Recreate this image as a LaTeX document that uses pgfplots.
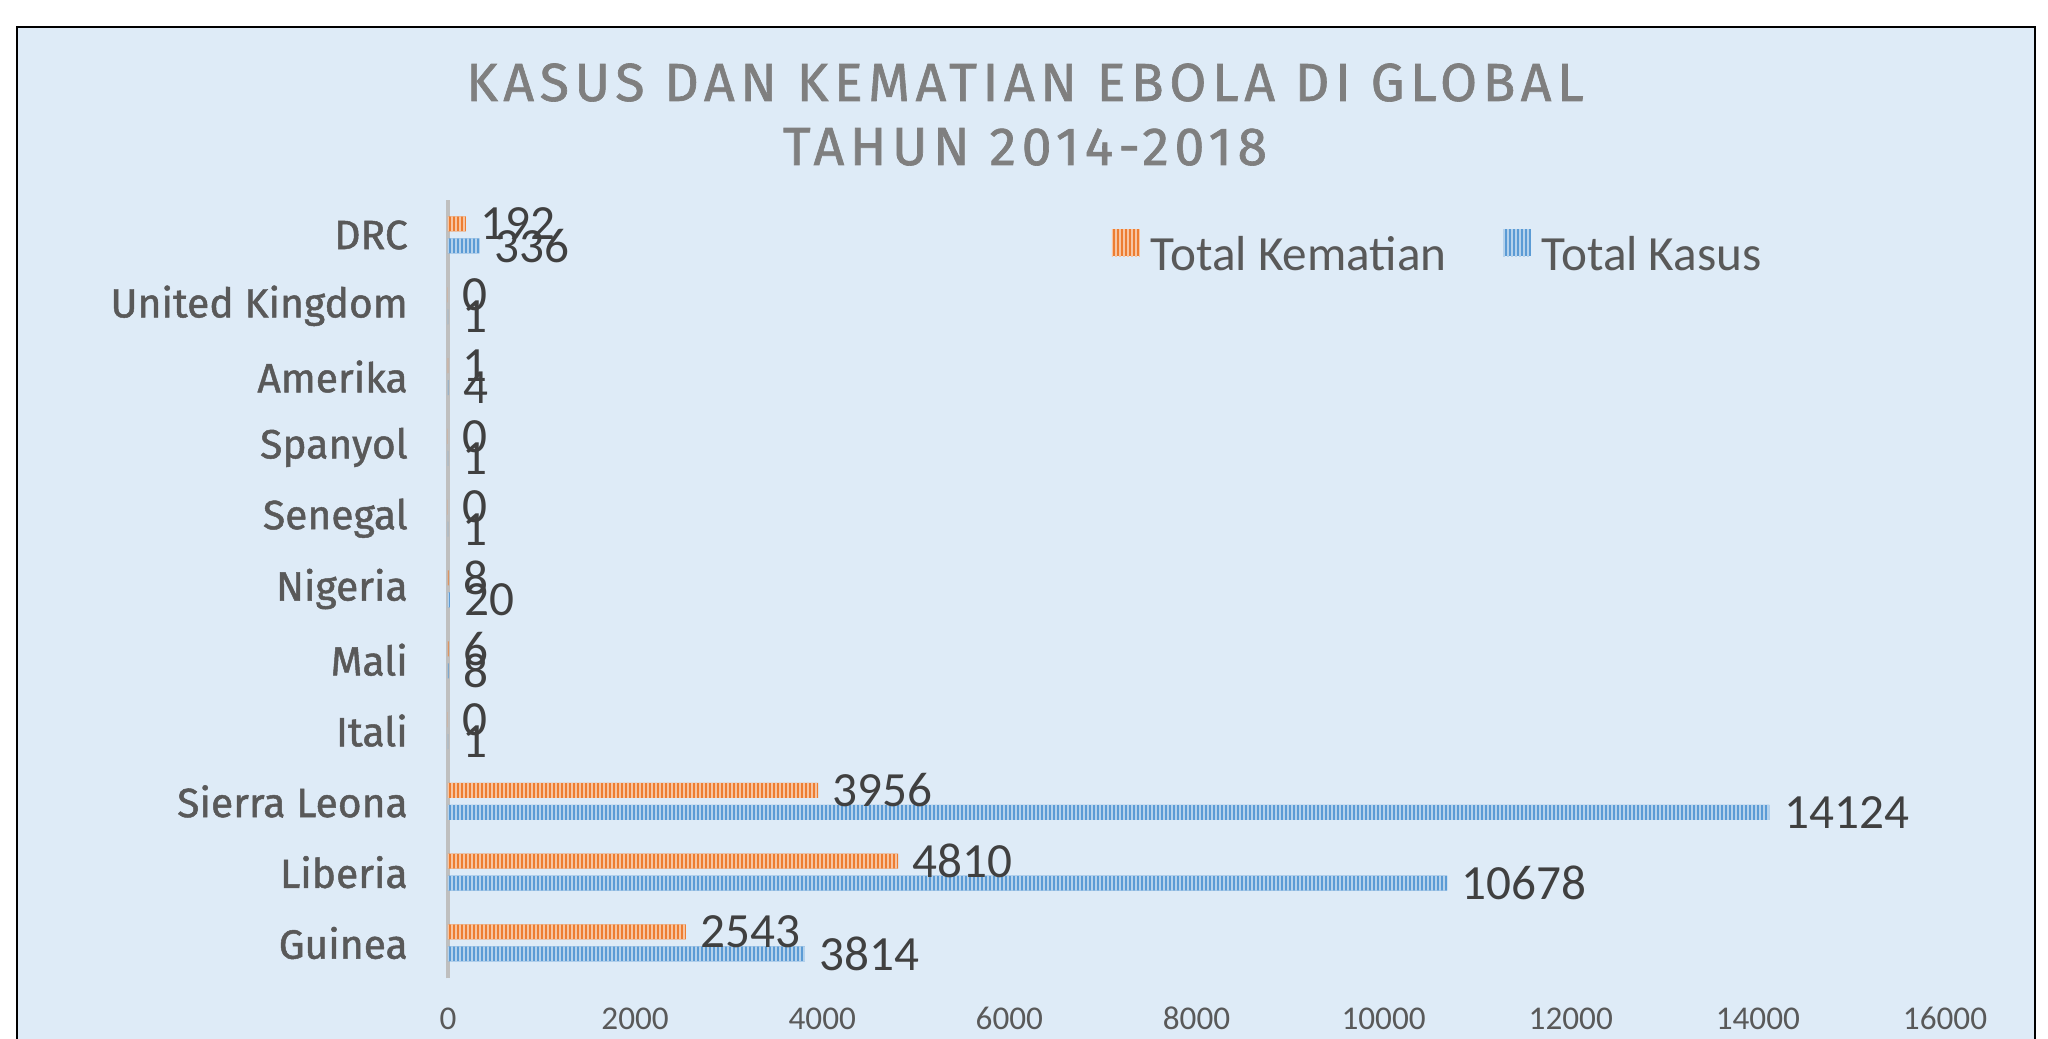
\documentclass[border=0pt]{standalone}
\usepackage{fontspec}
\setmainfont{Carlito}
\newfontfamily\dinfont{Fira Sans}[FakeBold=1.2]
\newfontfamily\titlefont{Fira Sans}[LetterSpace=10.5, FakeBold=1.2]
\usepackage{pgfplots}
\pgfplotsset{compat=1.18}
\usetikzlibrary{patterns.meta}

\definecolor{bgblue}{HTML}{DEEBF7}
\definecolor{kemOrange}{HTML}{ED7D31}
\definecolor{kasBlue}{HTML}{5B9BD5}
\definecolor{txtgray}{HTML}{595959}
\definecolor{lblgray}{HTML}{404040}
\definecolor{titlegray}{HTML}{7F7F7F}
\definecolor{axgray}{HTML}{BFBFBF}

\begin{document}
\begin{tikzpicture}
  \path[use as bounding box] (0,0) rectangle (512pt,259.75pt);
  \fill[white] (0,0) rectangle (512pt,259.75pt);
  \filldraw[fill=bgblue, draw=black, line width=0.6pt] (4.25pt,-10pt) rectangle (508.75pt,253pt);

  \begin{axis}[
      at={(112pt,15.15pt)}, anchor=south west,
      scale only axis, width=374.25pt, height=194.7pt,
      xmin=0, xmax=16000, ymin=-0.5, ymax=10.5,
      xbar, bar width=3.75pt,
      axis lines*=left,
      x axis line style={draw=none},
      y axis line style={draw=axgray, line width=0.8pt},
      tick style={draw=none},
      xtick={0,2000,...,16000},
      ytick={0,...,10},
      yticklabels={Guinea,Liberia,Sierra Leona,Itali,Mali,Nigeria,Senegal,Spanyol,Amerika,United Kingdom,DRC},
      scaled x ticks=false,
      /pgf/number format/1000 sep={},
      /pgf/number format/assume math mode=true,
      xticklabel style={font=\fontsize{8.3}{10}\selectfont, text=txtgray, anchor=base, yshift=-12.75pt, inner sep=0pt},
      yticklabel style={font=\dinfont\fontsize{10.2}{12}\selectfont, text=txtgray, anchor=east, xshift=-5.6pt, inner sep=0pt},
      point meta=x,
      nodes near coords={\pgfmathprintnumber[fixed,precision=0,1000 sep={}]{\pgfplotspointmeta}},
      every node near coord/.append style={anchor=west, inner sep=0pt, xshift=3.5pt,
        font=\fontsize{12.3}{14}\selectfont, text=lblgray},
      legend image code/.code={\fill[#1] (0pt,0pt) rectangle (7pt,6.75pt);},
      legend columns=2,
      legend style={at={(0.4429,0.9315)}, anchor=west, draw=none, fill=none,
        inner sep=0pt, nodes={inner xsep=0pt, inner ysep=0pt},
        column sep=2.75pt,
        /tikz/every even column/.append style={column sep=14pt},
        font=\fontsize{12.3}{14}\selectfont, text=txtgray},
    ]
    % Total Kematian
    \addplot[fill=kemOrange, draw=none, bar shift=2.75pt,
      postaction={pattern={Lines[angle=90,distance=1pt,line width=0.4pt]}, pattern color=kemOrange!45!white}]
      coordinates {(2543,0) (4810,1) (3956,2) (0,3) (6,4) (8,5) (0,6) (0,7) (1,8) (0,9) (192,10)};
    \addlegendentry{Total Kematian}
    % Total Kasus
    \addplot[fill=kasBlue, draw=none, bar shift=-2.75pt,
      postaction={pattern={Lines[angle=90,distance=1pt,line width=0.4pt]}, pattern color=kasBlue!45!white}]
      coordinates {(3814,0) (10678,1) (14124,2) (1,3) (8,4) (20,5) (1,6) (1,7) (4,8) (1,9) (336,10)};
    \addlegendentry{Total Kasus}
  \end{axis}

  \node[anchor=base, font=\titlefont\fontsize{13.4}{16}\selectfont, text=titlegray, inner sep=0pt]
    at (256.25pt,234.5pt) {KASUS DAN KEMATIAN EBOLA DI GLOBAL};
  \node[anchor=base, font=\titlefont\fontsize{13.4}{16}\selectfont, text=titlegray, inner sep=0pt]
    at (256.25pt,218.5pt) {TAHUN 2014-2018};
\end{tikzpicture}
\end{document}
